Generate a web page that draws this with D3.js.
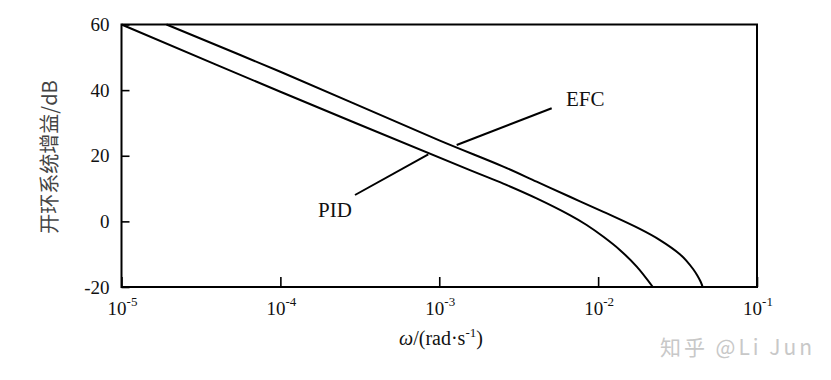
<!DOCTYPE html>
<html>
<head>
<meta charset="utf-8">
<script src="https://cdn.jsdelivr.net/npm/d3@7"></script>
<style>
  body { margin: 0; background: #fff; }
  svg { display: block; }
</style>
</head>
<body>
<div id="chart"></div>
<script>
// tick values
const xTicks = [1e-5, 1e-4, 1e-3, 1e-2, 1e-1];
const xTickExp = ["-5", "-4", "-3", "-2", "-1"];
const yTicks = [-20, 0, 20, 40, 60];

// PID curve
const pidOmega = [1e-5, 1e-4, 1.56e-3, 2.53e-3, 4.10e-3, 6.64e-3, 8.47e-3, 1.08e-2, 1.37e-2, 1.75e-2, 2.21e-2];
const pidGain  = [60, 39.5, 15.6, 11.5, 7.0, 1.9, -1.1, -4.7, -8.7, -13.8, -20];

// EFC curve
const efcOmega = [1.92e-5, 1e-4, 1e-3, 2.53e-3, 4.10e-3, 6.64e-3, 1.08e-2, 1.83e-2, 2.45e-2, 3.27e-2, 3.61e-2, 3.97e-2, 4.21e-2, 4.42e-2, 4.55e-2];
const efcGain  = [60, 45.6, 24.7, 16.7, 12.1, 7.5, 2.9, -2.3, -5.7, -10.0, -12.1, -14.6, -16.5, -18.4, -20];

const width = 831, height = 380;
const margin = { left: 121.5, right: 74, top: 24.5, bottom: 93 };
const serif = "'Liberation Serif', 'Times New Roman', serif";

const svg = d3.select("#chart")
  .append("svg")
  .attr("width", width)
  .attr("height", height);

const x = d3.scaleLog()
  .domain([1e-5, 1e-1])
  .range([margin.left, width - margin.right]);

const y = d3.scaleLinear()
  .domain([-20, 60])
  .range([height - margin.bottom, margin.top]);

// inward ticks
svg.append("g")
  .attr("transform", `translate(0,${y(-20)})`)
  .call(d3.axisBottom(x).tickValues(xTicks).tickSizeInner(-10).tickSizeOuter(0).tickFormat(""))
  .call(g => g.select(".domain").remove())
  .call(g => g.selectAll("line").attr("stroke", "#000").attr("stroke-width", 1.6));

svg.append("g")
  .attr("transform", `translate(${x(1e-5)},0)`)
  .call(d3.axisLeft(y).tickValues(yTicks).tickSizeInner(-8).tickSizeOuter(0).tickPadding(12)
    .tickFormat(d => String(d)))
  .call(g => g.select(".domain").remove())
  .call(g => g.selectAll("line").attr("stroke", "#000").attr("stroke-width", 1.6))
  .call(g => g.selectAll("text")
    .attr("font-family", serif)
    .attr("font-size", 19)
    .attr("fill", "#111"));

// x tick labels with superscripts
const xl = svg.append("g").selectAll("text")
  .data(xTicks)
  .join("text")
  .attr("x", d => x(d) + 1)
  .attr("y", 315)
  .attr("text-anchor", "middle")
  .attr("font-family", serif)
  .attr("font-size", 19)
  .attr("fill", "#111");
xl.append("tspan").text("10");
xl.append("tspan")
  .attr("dy", -9)
  .attr("font-size", 13)
  .text((d, i) => xTickExp[i]);

// frame
svg.append("rect")
  .attr("x", x(1e-5))
  .attr("y", y(60))
  .attr("width", x(1e-1) - x(1e-5))
  .attr("height", y(-20) - y(60))
  .attr("fill", "none")
  .attr("stroke", "#000")
  .attr("stroke-width", 2);

// curves
const line = d3.line()
  .x(d => x(d[0]))
  .y(d => y(d[1]))
  .curve(d3.curveCatmullRom.alpha(0.5));

svg.append("path")
  .datum(d3.zip(pidOmega, pidGain))
  .attr("d", line)
  .attr("fill", "none")
  .attr("stroke", "#000")
  .attr("stroke-width", 2);

svg.append("path")
  .datum(d3.zip(efcOmega, efcGain))
  .attr("d", line)
  .attr("fill", "none")
  .attr("stroke", "#000")
  .attr("stroke-width", 2);

// leader lines and labels
svg.append("line")
  .attr("x1", 456.7).attr("y1", 145)
  .attr("x2", 551.7).attr("y2", 108.3)
  .attr("stroke", "#000").attr("stroke-width", 2);
svg.append("text")
  .attr("x", 566).attr("y", 106)
  .attr("font-family", serif).attr("font-size", 21).attr("fill", "#111")
  .text("EFC");

svg.append("line")
  .attr("x1", 428.3).attr("y1", 154.3)
  .attr("x2", 355).attr("y2", 195)
  .attr("stroke", "#000").attr("stroke-width", 2);
svg.append("text")
  .attr("x", 318).attr("y", 217)
  .attr("font-family", serif).attr("font-size", 21).attr("fill", "#111")
  .text("PID");

// axis titles
const xt = svg.append("text")
  .attr("x", 441)
  .attr("y", 345)
  .attr("text-anchor", "middle")
  .attr("font-family", serif)
  .attr("font-size", 20)
  .attr("fill", "#111");
xt.append("tspan").attr("font-style", "italic").text("ω");
xt.append("tspan").text("/(rad·s");
xt.append("tspan").attr("dy", -8).attr("font-size", 13).text("-1");
xt.append("tspan").attr("dy", 8).text(")");

svg.append("text")
  .attr("transform", "translate(57,157) rotate(-90)")
  .attr("text-anchor", "middle")
  .attr("font-family", "'Noto Sans CJK SC', " + serif)
  .attr("font-size", 20)
  .attr("fill", "#444")
  .text("开环系统增益/dB");

// watermark
svg.append("text")
  .attr("x", 660)
  .attr("y", 355)
  .attr("font-family", "'Noto Sans CJK SC', 'Noto Sans', sans-serif")
  .attr("font-size", 21)
  .attr("textLength", 152)
  .attr("lengthAdjust", "spacing")
  .attr("fill", "#c8c8c8")
  .text("知乎 @Li Jun");
</script>
</body>
</html>
